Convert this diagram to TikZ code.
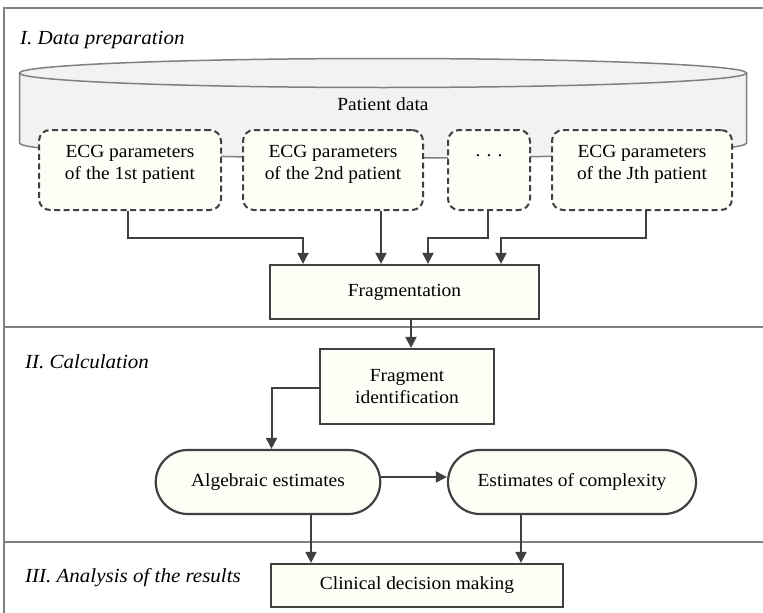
\documentclass[tikz,border=0pt]{standalone}
\usepackage{fontspec}
\setmainfont[FakeStretch=1.05]{Liberation Serif}
\usetikzlibrary{arrows.meta,shapes.misc}
\definecolor{frame}{HTML}{808080}
\definecolor{ink}{HTML}{404040}
\definecolor{cream}{HTML}{FEFEF7}
\definecolor{drum}{HTML}{F2F2F2}
\begin{document}
\begin{tikzpicture}[x=1pt,y=-1pt,
  body/.style={font=\fontsize{18.5}{22}\selectfont, text=black},
  stage/.style={font=\fontsize{20}{23}\selectfont\itshape, text=black, anchor=west, inner sep=0pt},
  dbox/.style={draw=ink, fill=cream, line width=2pt, dash pattern=on 6pt off 3.5pt,
    rounded corners=11pt, inner sep=0pt},
  pbox/.style={draw=ink, fill=cream, line width=2.2pt, inner sep=0pt, body, align=center},
  pill/.style={rounded rectangle, draw=ink, fill=cream, line width=2.2pt, inner sep=0pt, body},
  arr/.style={draw=ink, line width=2pt, -{Triangle[length=11pt,width=11pt]}},
  sep/.style={draw=frame, line width=1.1pt}]
\useasboundingbox (0,0) rectangle (763,613);

% frame and section dividers
\draw[sep] (763,8) -- (4,8) -- (4,613);
\draw[sep] (4,327) -- (763,327);
\draw[sep] (4,542) -- (763,542);

% section titles
\node[stage] (s1) at (20,40) {I. Data preparation};
\node[stage] (s2) at (25,362) {II. Calculation};
\node[stage] (s3) at (25,578) {III. Analysis of the results};

% patient database drum
\fill[drum] (19.5,73) -- (19.5,143)
  .. controls (19.5,151.3) and (182.1,158) .. (383,158)
  .. controls (583.9,158) and (746.5,151.3) .. (746.5,143) -- (746.5,73) -- cycle;
\draw[frame, line width=1.5pt] (19.5,73) -- (19.5,143)
  .. controls (19.5,151.3) and (182.1,158) .. (383,158)
  .. controls (583.9,158) and (746.5,151.3) .. (746.5,143) -- (746.5,73);
\draw[frame, fill=drum, line width=1.5pt] (383,73) ellipse [x radius=363.5, y radius=14.5];
\node[body] (pd) at (383,104) {Patient data};

% per-patient parameter sets
\node[dbox, minimum width=182pt, minimum height=80pt] (p1) at (130,170) {};
\node[dbox, minimum width=180pt, minimum height=80pt] (p2) at (333,170) {};
\node[dbox, minimum width=82pt, minimum height=80pt] (p3) at (489,170) {};
\node[dbox, minimum width=180pt, minimum height=80pt] (p4) at (642,170) {};
\node[body, align=center] (t1) at (130,164) {ECG parameters\\of the 1st patient};
\node[body, align=center] (t2) at (333,164) {ECG parameters\\of the 2nd patient};
\node[body] (t3) at (489,156) {.\,\,.\,\,.};
\node[body, align=center] (t4) at (642,164) {ECG parameters\\of the Jth patient};

% processing steps
\node[pbox, minimum width=269pt, minimum height=54pt] (frag) at (404.5,292) {Fragmentation};
\node[pbox, minimum width=174pt, minimum height=75pt] (fid) at (407,386.5) {Fragment\\identification};
\node[pill, minimum width=224.5pt, minimum height=64pt] (alg) at (268,482) {Algebraic estimates};
\node[pill, minimum width=248pt, minimum height=64pt] (est) at (572,482) {Estimates of complexity};
\node[pbox, minimum width=292pt, minimum height=43pt] (clin) at (417,585.5) {Clinical decision making};

% connectors
\draw[arr] ([xshift=-2.5pt]p1.south) -- ++(0,27) -| ([xshift=-101.5pt]frag.north);
\draw[arr] ([xshift=48pt]p2.south) -- ([xshift=-23.5pt]frag.north);
\draw[arr] ([xshift=-1pt]p3.south) -- ++(0,27) -| ([xshift=23.5pt]frag.north);
\draw[arr] ([xshift=4pt]p4.south) -- ++(0,27) -| ([xshift=96.5pt]frag.north);
\draw[arr] ([xshift=6.5pt]frag.south) -- ([xshift=4pt]fid.north);
\draw[arr] ([yshift=-1.5pt]fid.west) -| ([xshift=3.5pt]alg.north);
\draw[arr] ([yshift=5pt]alg.east) -- ([yshift=5pt]est.west);
\draw[arr] ([xshift=43pt]alg.south) -- ([xshift=-106pt]clin.north);
\draw[arr] ([xshift=-51pt]est.south) -- ([xshift=104pt]clin.north);
\end{tikzpicture}
\end{document}
